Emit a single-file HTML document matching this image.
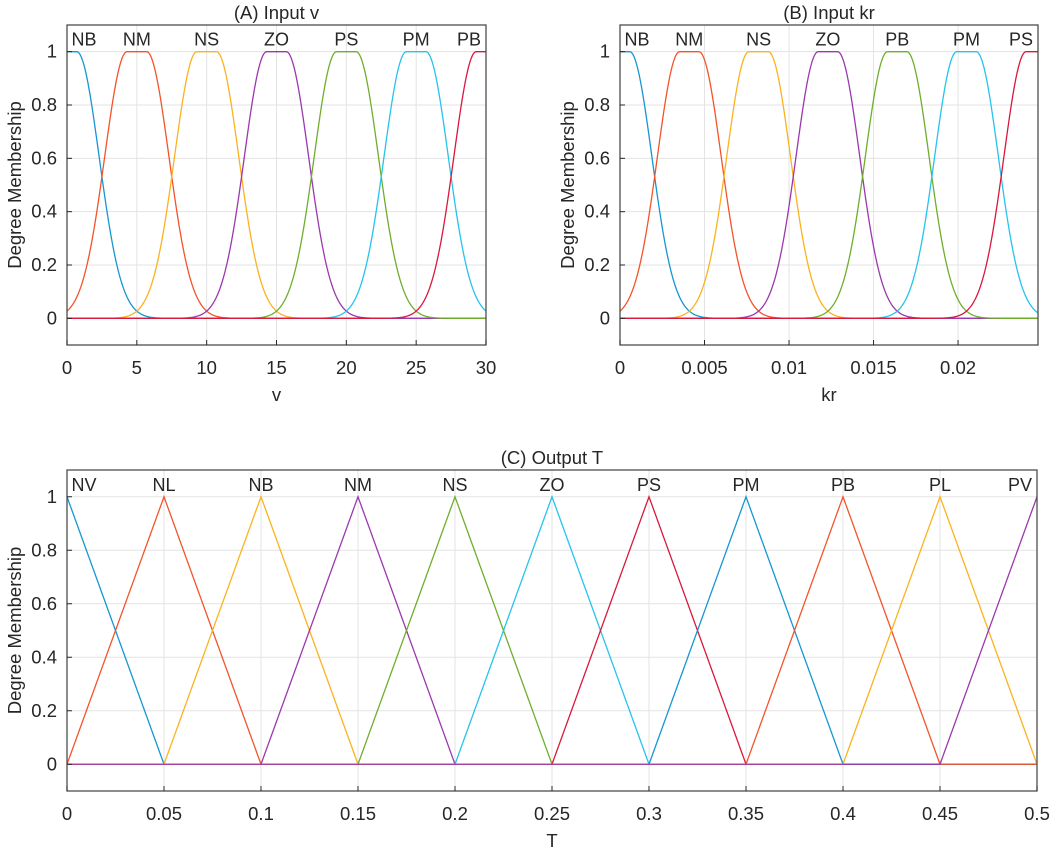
<!DOCTYPE html>
<html><head><meta charset="utf-8"><style>
body{margin:0;background:#fff;}
svg text{font-family:"Liberation Sans",sans-serif;fill:#262626;}
</style></head><body>
<svg id="fig" width="1052" height="848" xmlns="http://www.w3.org/2000/svg"></svg>
<script>
// Panel A data
const aLabels=["NB","NM","NS","ZO","PS","PM","PB"];
const aCenters=[0,5,10,15,20,25,30];
const aXTicks=[0,5,10,15,20,25,30];
// Panel B data
const bLabels=["NB","NM","NS","ZO","PB","PM","PS"];
const bCenters=[0,0.0041,0.0082,0.0123,0.0164,0.0205,0.0246];
const bXTicks=[0,0.005,0.01,0.015,0.02];
const bXTickLabels=["0","0.005","0.01","0.015","0.02"];
// Panel C data
const cLabels=["NV","NL","NB","NM","NS","ZO","PS","PM","PB","PL","PV"];
const cCenters=[0,0.05,0.1,0.15,0.2,0.25,0.3,0.35,0.4,0.45,0.5];
const cXTicks=[0,0.05,0.1,0.15,0.2,0.25,0.3,0.35,0.4,0.45,0.5];
const yTicks=[0,0.2,0.4,0.6,0.8,1];
const colors=["#1596d2","#f4532a","#fbb21e","#9b38ad","#6fae2c","#25c3ee","#d8183c"];

const NS="http://www.w3.org/2000/svg";
const svg=document.getElementById('fig');
function el(tag,attrs,parent){const e=document.createElementNS(NS,tag);for(const k in attrs)e.setAttribute(k,attrs[k]);(parent||svg).appendChild(e);return e;}

function panel(cfg){
  const g=el('g',{});
  
  
  const X=v=>cfg.x0+(v-cfg.xmin)/(cfg.xmax-cfg.xmin)*(cfg.x1-cfg.x0);
  const Y=v=>cfg.y1-(v+0.1)/1.2*(cfg.y1-cfg.y0);
  cfg.xt.forEach((t,i)=>{const l=el('line',{x1:X(t),x2:X(t),y1:cfg.y0,y2:cfg.y1,stroke:'#e3e3e3','stroke-width':1},g);});
  yTicks.forEach(t=>{const l=el('line',{x1:cfg.x0,x2:cfg.x1,y1:Y(t),y2:Y(t),stroke:'#e3e3e3','stroke-width':1},g);});
  cfg.centers.forEach((c,i)=>{
    let d='';
    const N=400;
    for(let k=0;k<=N;k++){const xv=cfg.xmin+(cfg.xmax-cfg.xmin)*k/N;const yv=cfg.mf(xv,c);d+=(k?'L':'M')+X(xv).toFixed(2)+','+Y(yv).toFixed(2);}
    const p=el('path',{d:d,fill:'none',stroke:colors[i%7],'stroke-width':1.3},g);
    
    
    let lx=X(c); lx=Math.max(cfg.x0+17,Math.min(cfg.x1-17,lx));
    const t=el('text',{x:lx,y:Y(1)-6,'font-size':18,'text-anchor':'middle'},g);t.textContent=cfg.labels[i];
    
  });
  const b=el('rect',{x:cfg.x0,y:cfg.y0,width:cfg.x1-cfg.x0,height:cfg.y1-cfg.y0,fill:'none',stroke:'#4d4d4d','stroke-width':1.3},g);
  
  cfg.xt.forEach((t,i)=>{
    el('line',{x1:X(t),x2:X(t),y1:cfg.y1,y2:cfg.y1-5,stroke:'#262626'},g);
    const tx=el('text',{x:X(t),y:cfg.y1+29,'font-size':18.5,'text-anchor':'middle'},g);tx.textContent=cfg.xtl[i];
    
  });
  yTicks.forEach(t=>{
    el('line',{x1:cfg.x0,x2:cfg.x0+5,y1:Y(t),y2:Y(t),stroke:'#262626'},g);
    const tx=el('text',{x:cfg.x0-10,y:Y(t)+6,'font-size':18.5,'text-anchor':'end'},g);tx.textContent=String(t);
    
  });
  const tt=el('text',{x:(cfg.x0+cfg.x1)/2,y:cfg.y0-6,'font-size':18.5,'text-anchor':'middle'},g);tt.textContent=cfg.title;
  
  const xl=el('text',{x:(cfg.x0+cfg.x1)/2,y:cfg.y1+56,'font-size':18.5,'text-anchor':'middle'},g);xl.textContent=cfg.xlabel;
  
  const cy=(cfg.y0+cfg.y1)/2, cx=cfg.x0-46;
  const yl=el('text',{x:cx,y:cy,'font-size':18.5,'text-anchor':'middle',transform:`rotate(-90 ${cx} ${cy})`},g);yl.textContent='Degree Membership';
  
}
function g2(x,c,half,s){if(x<c-half)return Math.exp(-Math.pow(x-(c-half),2)/(2*s*s));if(x>c+half)return Math.exp(-Math.pow(x-(c+half),2)/(2*s*s));return 1;}
panel({name:'panel-a-input-v',x0:67,x1:486,y0:25,y1:345,xmin:0,xmax:30,xt:aXTicks,xtl:aXTicks.map(String),centers:aCenters,labels:aLabels,
  mf:(x,c)=>g2(x,c,0.7,1.6),title:'(A) Input v',xlabel:'v'});
const sb=0.0246/30;
panel({name:'panel-b-input-kr',x0:620,x1:1038,y0:25,y1:345,xmin:0,xmax:0.02473,xt:bXTicks,xtl:bXTickLabels,centers:bCenters,labels:bLabels,
  mf:(x,c)=>g2(x,c,0.7*sb,1.6*sb),title:'(B) Input kr',xlabel:'kr'});
panel({name:'panel-c-output-t',x0:67,x1:1037,y0:470,y1:791,xmin:0,xmax:0.5,xt:cXTicks,xtl:cXTicks.map(String),centers:cCenters,labels:cLabels,
  mf:(x,c)=>Math.max(0,1-Math.abs(x-c)/0.05),title:'(C) Output T',xlabel:'T'});
</script>
</body></html>
